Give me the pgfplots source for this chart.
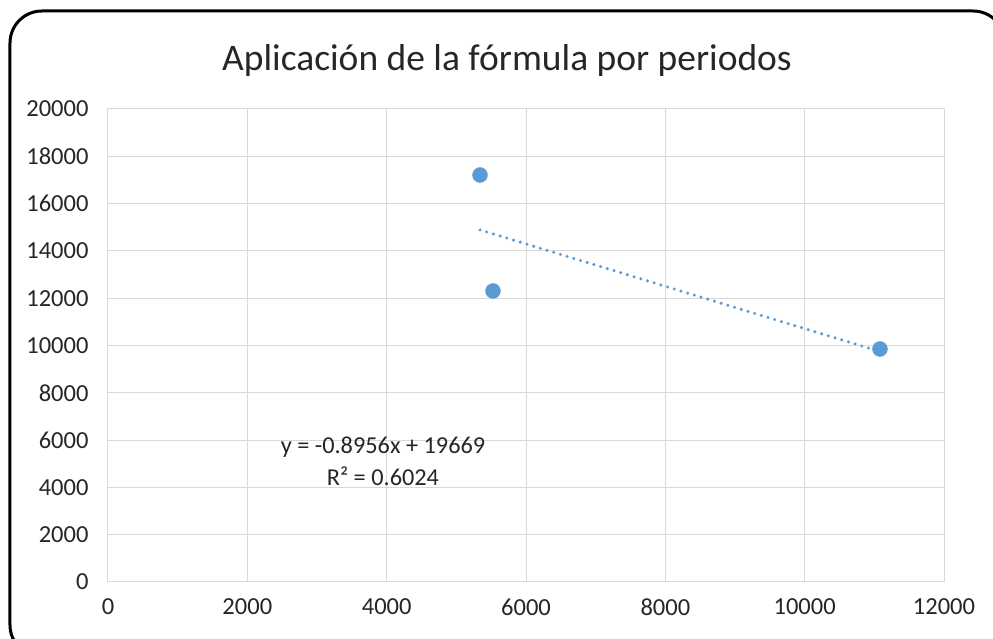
\documentclass[border=0pt]{standalone}
\usepackage{fontspec}
\setmainfont{Carlito}
\usepackage{pgfplots}
\pgfplotsset{compat=1.18}
\definecolor{pt}{HTML}{5B9BD5}
\definecolor{gr}{HTML}{D9D9D9}
\begin{document}
\begin{tikzpicture}[x=1pt,y=1pt]
\useasboundingbox (-108,-57) rectangle (885,582);
\draw[line width=3pt, rounded corners=32pt] (-98,571) rectangle (897,-75);
\node[font=\fontsize{37.5}{42}\selectfont, text=black!85] at (399,521) {Aplicación de la fórmula por periodos};
\begin{axis}[
  at={(0pt,0pt)}, anchor=south west,
  scale only axis, width=836pt, height=473pt,
  xmin=0, xmax=12000, ymin=0, ymax=20000,
  xtick distance=2000, ytick distance=2000,
  grid=major, grid style={gr, line width=1pt},
  axis line style={gr, line width=1pt},
  major tick length=0pt,
  scaled ticks=false,
  /pgf/number format/assume math mode=true,
  /pgf/number format/1000 sep={},
  ticklabel style={font=\fontsize{24.5}{28}\selectfont, text=black!85},
  xticklabel style={yshift=-13pt},
  yticklabel style={xshift=-16pt},
]
\addplot[pt, line width=3.4pt, dash pattern=on 0pt off 7pt, line cap=round] coordinates {(5340,14886) (11081,9745)};
\addplot[only marks, mark=*, mark size=7.5pt, mark options={fill=pt, draw=pt}] coordinates {
(5340,17210)
(5526,12305)
(11081,9852)
};
\node[font=\fontsize{24.3}{28}\selectfont, text=black!85] at (axis cs:3947,5708) {y = -0.8956x + 19669};
\node[font=\fontsize{24.3}{28}\selectfont, text=black!85] at (axis cs:3947,4482) {R² = 0.6024};
\end{axis}
\end{tikzpicture}
\end{document}
